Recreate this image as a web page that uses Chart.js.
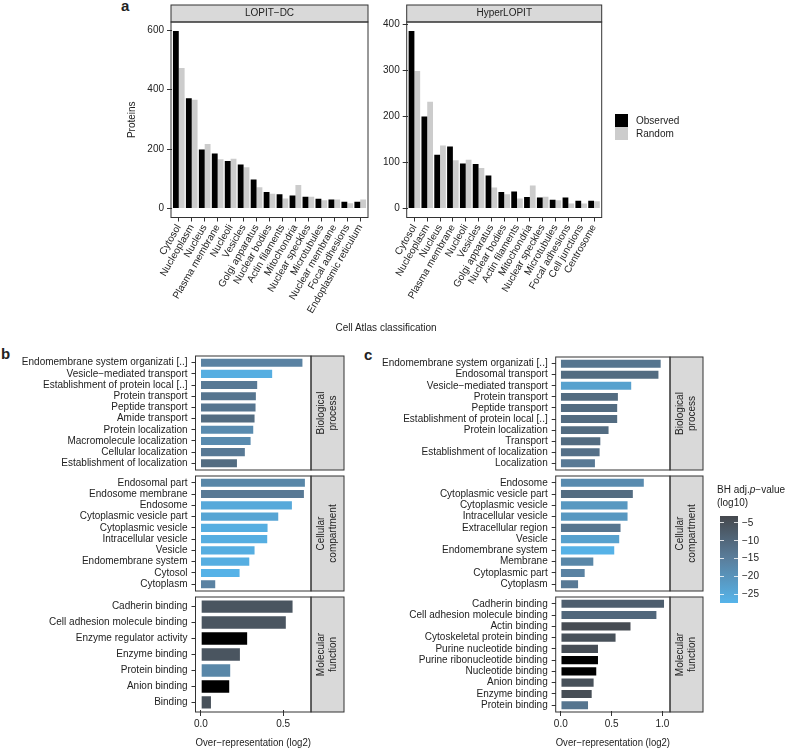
<!DOCTYPE html>
<html>
<head>
<meta charset="utf-8">
<script src="https://cdn.jsdelivr.net/npm/chart.js@4.4.1/dist/chart.umd.min.js"></script>
<style>
  body { margin: 0; background: #fff; }
  #wrap { position: relative; width: 786px; height: 749px; overflow: hidden;
          font-family: "Liberation Sans", Arial, sans-serif; color: #222; }
  canvas { position: absolute; }
  .txt { position: absolute; font-size: 10px; line-height: 12px; white-space: nowrap; }
  .tag { position: absolute; font-size: 15px; line-height: 15px; font-weight: bold; }
  .sw { position: absolute; width: 13px; height: 13px; }
</style>
</head>
<body>
<div id="wrap">
  <div class="tag" style="left:121px;top:-2px">a</div>
  <div class="tag" style="left:1px;top:346px">b</div>
  <div class="tag" style="left:364px;top:347px">c</div>

  <canvas id="atlasDC"></canvas>
  <canvas id="atlasHL"></canvas>
  <div class="txt" style="left:386px;top:322px;transform:translateX(-50%)">Cell Atlas classification</div>

  <div class="sw" style="left:615px;top:114px;background:#000"></div>
  <div class="sw" style="left:615px;top:127px;background:#cccccc"></div>
  <div class="txt" style="left:636px;top:115px">Observed</div>
  <div class="txt" style="left:636px;top:128px">Random</div>

  <canvas id="b1"></canvas>
  <canvas id="b2"></canvas>
  <canvas id="b3"></canvas>
  <canvas id="c1"></canvas>
  <canvas id="c2"></canvas>
  <canvas id="c3"></canvas>

  <div class="txt" style="left:717px;top:484px">BH adj.<i>p</i>−value</div>
  <div class="txt" style="left:717px;top:497px">(log10)</div>
  <div id="cbar" style="position:absolute;left:720px;top:516px;width:18px;height:87px"></div>
</div>
<script>
// panel a: Cell Atlas classification
const atlasDC = ['Cytosol', 'Nucleoplasm', 'Nucleus', 'Plasma membrane', 'Nucleoli', 'Vesicles',
  'Golgi apparatus', 'Nuclear bodies', 'Actin filaments', 'Mitochondria', 'Nuclear speckles',
  'Microtubules', 'Nuclear membrane', 'Focal adhesions', 'Endoplasmic reticulum'];
const observedDC = [598, 371, 199, 185, 160, 148, 98, 56, 48, 44, 40, 33, 31, 23, 23];
const randomDC   = [473, 366, 217, 166, 168, 139, 72, 50, 34, 79, 40, 28, 31, 18, 31];
const ticksDC = [0, 200, 400, 600];

const atlasHL = ['Cytosol', 'Nucleoplasm', 'Nucleus', 'Plasma membrane', 'Nucleoli', 'Vesicles',
  'Golgi apparatus', 'Nuclear bodies', 'Actin filaments', 'Mitochondria', 'Nuclear speckles',
  'Microtubules', 'Focal adhesions', 'Cell junctions', 'Centrosome'];
const observedHL = [386, 200, 117, 135, 98, 97, 72, 36, 37, 25, 24, 19, 24, 17, 17];
const randomHL   = [299, 232, 137, 105, 106, 88, 46, 31, 22, 50, 26, 18, 11, 11, 16];
const ticksHL = [0, 100, 200, 300, 400];

// panel b: over-representation (log2) and BH adj. p-value (log10)
const bpTermsB = ['Endomembrane system organizati [..]', 'Vesicle−mediated transport',
  'Establishment of protein local [..]', 'Protein transport', 'Peptide transport', 'Amide transport',
  'Protein localization', 'Macromolecule localization', 'Cellular localization', 'Establishment of localization'];
const bpOverB = [0.623, 0.439, 0.348, 0.340, 0.338, 0.332, 0.324, 0.308, 0.273, 0.225];
const bpPvalB = [-16, -26, -14, -13, -13, -11, -18, -18, -14, -11];

const ccTermsB = ['Endosomal part', 'Endosome membrane', 'Endosome', 'Cytoplasmic vesicle part',
  'Cytoplasmic vesicle', 'Intracellular vesicle', 'Vesicle', 'Endomembrane system', 'Cytosol', 'Cytoplasm'];
const ccOverB = [0.638, 0.632, 0.559, 0.476, 0.411, 0.409, 0.332, 0.300, 0.241, 0.093];
const ccPvalB = [-17, -14, -25, -24, -26, -26, -26, -26, -27, -16];

const mfTermsB = ['Cadherin binding', 'Cell adhesion molecule binding', 'Enzyme regulator activity',
  'Enzyme binding', 'Protein binding', 'Anion binding', 'Binding'];
const mfOverB = [0.563, 0.522, 0.287, 0.243, 0.184, 0.178, 0.067];
const mfPvalB = [-6, -6, -2, -6, -17, -2, -5];
const xTicksB = [0, 0.5];

// panel c
const bpTermsC = ['Endomembrane system organizati [..]', 'Endosomal transport', 'Vesicle−mediated transport',
  'Protein transport', 'Peptide transport', 'Establishment of protein local [..]', 'Protein localization',
  'Transport', 'Establishment of localization', 'Localization'];
const bpOverC = [0.993, 0.971, 0.703, 0.572, 0.565, 0.565, 0.480, 0.399, 0.392, 0.346];
const bpPvalC = [-13, -11, -23, -11, -11, -11, -11, -11, -12, -14];

const ccTermsC = ['Endosome', 'Cytoplasmic vesicle part', 'Cytoplasmic vesicle', 'Intracellular vesicle',
  'Extracellular region', 'Vesicle', 'Endomembrane system', 'Membrane', 'Cytoplasmic part', 'Cytoplasm'];
const ccOverC = [0.827, 0.719, 0.667, 0.667, 0.598, 0.585, 0.536, 0.330, 0.245, 0.180];
const ccPvalC = [-18, -11, -21, -21, -13, -23, -27, -17, -16, -14];

const mfTermsC = ['Cadherin binding', 'Cell adhesion molecule binding', 'Actin binding',
  'Cytoskeletal protein binding', 'Purine nucleotide binding', 'Purine ribonucleotide binding',
  'Nucleotide binding', 'Anion binding', 'Enzyme binding', 'Protein binding'];
const mfOverC = [1.026, 0.951, 0.696, 0.549, 0.376, 0.376, 0.359, 0.333, 0.314, 0.278];
const mfPvalC = [-8, -10, -4, -5, -4.5, -2, -2, -5, -4.5, -13];
const xTicksC = [0, 0.5, 1.0];

const cbarTicks = [-5, -10, -15, -20, -25];

const GREY = '#333333';
const STRIP = '#d9d9d9';
const FONT = '"Liberation Sans", Arial, sans-serif';
Chart.defaults.font.family = FONT;
Chart.defaults.font.size = 10;
Chart.defaults.color = '#222222';

// colour scale of the p-values: dark grey -> steel blue -> light blue
const P_TOP = -3.1, P_BOT = -27.5;
const pStops = [[P_TOP, [0x45, 0x48, 0x4d]], [-15, [0x5a, 0x7e, 0x9c]], [P_BOT, [0x56, 0xb4, 0xea]]];
function pColor(v) {
  if (v > P_TOP) return '#000000';
  v = Math.max(v, P_BOT);
  const i = v > -15 ? 0 : 1;
  const [a, ca] = pStops[i], [b, cb] = pStops[i + 1];
  const t = (v - a) / (b - a);
  return 'rgb(' + ca.map((c, k) => Math.round(c + t * (cb[k] - c))).join(',') + ')';
}

// panel border + facet strip
const framePlugin = {
  id: 'frame',
  afterDraw(chart, args, o) {
    const { ctx, chartArea: a } = chart;
    const ix = o.insetX || 0, iy = o.insetY || 0;
    const x0 = a.left - ix, x1 = a.right + ix, y0 = a.top - iy, y1 = a.bottom + iy;
    const s = o.strip;
    ctx.save();
    ctx.lineWidth = 1;
    ctx.strokeStyle = GREY;
    ctx.font = '10px ' + FONT;
    ctx.textAlign = 'center';
    ctx.textBaseline = 'middle';
    if (s.side === 'top') {
      ctx.fillStyle = STRIP;
      ctx.fillRect(x0, y0 - s.size, x1 - x0, s.size);
      ctx.strokeRect(x0, y0 - s.size, x1 - x0, s.size);
      ctx.fillStyle = '#222';
      ctx.fillText(s.lines[0], (x0 + x1) / 2, y0 - s.size / 2);
    } else {
      ctx.fillStyle = STRIP;
      ctx.fillRect(x1, y0, s.size, y1 - y0);
      ctx.strokeRect(x1, y0, s.size, y1 - y0);
    }
    ctx.strokeRect(x0, y0, x1 - x0, y1 - y0);
    if (s.side === 'right') {
      ctx.translate(x1 + s.size / 2, (y0 + y1) / 2);
      ctx.rotate(-Math.PI / 2);
      ctx.fillStyle = '#222';
      s.lines.forEach((t, i) => ctx.fillText(t, 0, (i - (s.lines.length - 1) / 2) * 12));
    }
    ctx.restore();
  }
};

function place(cv, box) {
  cv.width = box.width;
  cv.height = box.height;
  cv.style.left = box.left + 'px';
  cv.style.top = box.top + 'px';
}

function atlasChart(id, cats, obs, rnd, yTicks, box) {
  const ix = 0.1 * (box.x1 - box.x0) / (cats.length + 0.2);
  const cv = document.getElementById(id);
  place(cv, box);
  return new Chart(cv, {
    type: 'bar',
    data: {
      labels: cats,
      datasets: [
        { label: 'Observed', data: obs, backgroundColor: '#000000' },
        { label: 'Random', data: rnd, backgroundColor: '#cccccc' }
      ]
    },
    options: {
      responsive: false,
      animation: false,
      layout: { padding: { left: 0, top: box.y0 - box.top, right: box.left + box.width - (box.x1 - ix), bottom: 0 } },
      datasets: { bar: { categoryPercentage: 0.9, barPercentage: 1.0 } },
      plugins: {
        legend: { display: false },
        tooltip: { enabled: false },
        frame: { insetX: ix, strip: { side: 'top', size: 17, lines: [box.strip] } }
      },
      scales: {
        x: {
          type: 'category',
          offset: true,
          grid: { offset: false, drawOnChartArea: false, tickLength: 4, color: GREY },
          border: { display: false },
          ticks: { autoSkip: false, minRotation: 60, maxRotation: 60, padding: 1 },
          afterFit: s => { s.height = box.top + box.height - box.y1; }
        },
        y: {
          min: box.ymin,
          max: box.ymax,
          grid: { drawOnChartArea: false, tickLength: 4 + ix, color: GREY },
          border: { display: false },
          ticks: { padding: 3, callback: v => String(v) },
          afterBuildTicks: s => { s.ticks = yTicks.map(v => ({ value: v })); },
          afterFit: s => { s.width = box.x0 + ix - box.left; },
          title: box.ytitle
            ? { display: true, text: box.ytitle, padding: { top: 6, bottom: 0 } }
            : { display: false }
        }
      }
    },
    plugins: [framePlugin]
  });
}

function goChart(id, terms, over, pvals, xTicks, box) {
  const iy = 0.1 * (box.y1 - box.y0) / (terms.length + 0.2);
  const showX = !!box.showX;
  const cv = document.getElementById(id);
  place(cv, box);
  return new Chart(cv, {
    type: 'bar',
    data: {
      labels: terms,
      datasets: [{
        data: over,
        backgroundColor: pvals.map(pColor),
        borderColor: 'rgba(255,255,255,0.45)',
        borderWidth: 1,
        barPercentage: 0.9,
        categoryPercentage: 1.0
      }]
    },
    options: {
      indexAxis: 'y',
      responsive: false,
      animation: false,
      layout: { padding: {
        left: 0,
        right: box.left + box.width - box.x1,
        top: box.y0 + iy - box.top,
        bottom: showX ? 0 : box.top + box.height - (box.y1 - iy)
      } },
      plugins: {
        legend: { display: false },
        tooltip: { enabled: false },
        frame: { insetY: iy, strip: { side: 'right', size: 33, lines: box.strip } }
      },
      scales: {
        x: {
          type: 'linear',
          display: showX,
          min: box.xmin,
          max: box.xmax,
          grid: { drawOnChartArea: false, tickLength: 4 + iy, color: GREY },
          border: { display: false },
          ticks: { padding: 2, callback: v => v.toFixed(1) },
          afterBuildTicks: s => { s.ticks = xTicks.map(v => ({ value: v })); },
          afterFit: s => { s.height = showX ? box.top + box.height - (box.y1 - iy) : 0; },
          title: { display: showX, text: 'Over−representation (log2)', padding: { top: 0, bottom: 0 } }
        },
        y: {
          type: 'category',
          offset: true,
          grid: { offset: false, drawOnChartArea: false, tickLength: 4, color: GREY },
          border: { display: false },
          ticks: { autoSkip: false, padding: 4 },
          afterFit: s => { s.width = box.x0 - box.left; }
        }
      }
    },
    plugins: [framePlugin]
  });
}

atlasChart('atlasDC', atlasDC, observedDC, randomDC, ticksDC,
  { left: 120, top: 0, width: 262, height: 330, x0: 171, x1: 368, y0: 22, y1: 217.5,
    ymin: -30, ymax: 628, strip: 'LOPIT−DC', ytitle: 'Proteins' });
atlasChart('atlasHL', atlasHL, observedHL, randomHL, ticksHL,
  { left: 372, top: 0, width: 250, height: 330, x0: 406.7, x1: 601.7, y0: 22, y1: 217.5,
    ymin: -19.3, ymax: 405.3, strip: 'HyperLOPIT' });

const rowsB = { left: 0, width: 350, x0: 195.5, x1: 311, xmin: -0.033, xmax: 0.669 };
goChart('b1', bpTermsB, bpOverB, bpPvalB, xTicksB,
  { ...rowsB, top: 342, height: 140, y0: 356, y1: 470, strip: ['Biological', 'process'] });
goChart('b2', ccTermsB, ccOverB, ccPvalB, xTicksB,
  { ...rowsB, top: 462, height: 141, y0: 476, y1: 591, strip: ['Cellular', 'compartment'] });
goChart('b3', mfTermsB, mfOverB, mfPvalB, xTicksB,
  { ...rowsB, top: 583, height: 166, y0: 597, y1: 712, strip: ['Molecular', 'function'], showX: true });

const rowsC = { left: 370, width: 345, x0: 555.7, x1: 670, xmin: -0.05, xmax: 1.075 };
goChart('c1', bpTermsC, bpOverC, bpPvalC, xTicksC,
  { ...rowsC, top: 342, height: 140, y0: 357, y1: 470, strip: ['Biological', 'process'] });
goChart('c2', ccTermsC, ccOverC, ccPvalC, xTicksC,
  { ...rowsC, top: 462, height: 141, y0: 476, y1: 591, strip: ['Cellular', 'compartment'] });
goChart('c3', mfTermsC, mfOverC, mfPvalC, xTicksC,
  { ...rowsC, top: 583, height: 166, y0: 597, y1: 712, strip: ['Molecular', 'function'], showX: true });

// colour bar legend
const cbar = document.getElementById('cbar');
const cbH = 87;
const midFrac = (P_TOP - (-15)) / (P_TOP - P_BOT);
cbar.style.background = 'linear-gradient(to bottom, ' + pColor(P_TOP - 0.001) + ' 0%, ' +
  pColor(-15) + ' ' + (midFrac * 100).toFixed(1) + '%, ' + pColor(P_BOT) + ' 100%)';
cbarTicks.forEach(v => {
  const y = (P_TOP - v) / (P_TOP - P_BOT) * cbH;
  ['0px', '14px'].forEach(x => {
    const t = document.createElement('div');
    t.style.cssText = 'position:absolute;left:' + x + ';top:' + (y - 0.5) + 'px;width:4px;height:1px;background:rgba(255,255,255,0.8)';
    cbar.appendChild(t);
  });
  const l = document.createElement('div');
  l.className = 'txt';
  l.style.left = '22px';
  l.style.top = (y - 6) + 'px';
  l.textContent = '−' + Math.abs(v);
  cbar.appendChild(l);
});
</script>
</body>
</html>
